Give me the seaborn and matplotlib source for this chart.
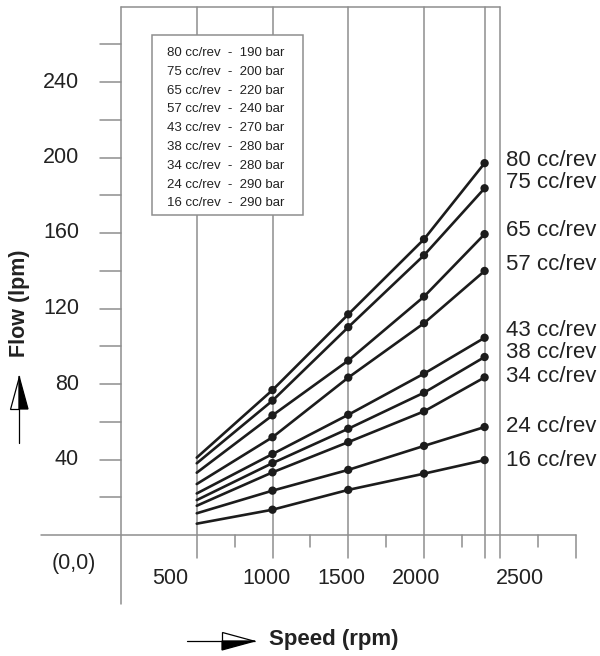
import numpy as np
import pandas as pd
import seaborn as sns
import matplotlib.pyplot as plt
from matplotlib.patches import Polygon, Rectangle

# chart data
displacements = [80, 75, 65, 57, 43, 38, 34, 24, 16]
max_pressure = [190, 200, 220, 240, 270, 280, 280, 290, 290]
speeds = [500, 1000, 1500, 2000, 2400]
flows = {
    80: [41, 76.8, 116.9, 156.7, 197.0],
    75: [38, 71.2, 110.1, 148.2, 183.7],
    65: [33, 63.4, 92.4, 126.3, 159.4],
    57: [27, 51.8, 83.4, 112.2, 139.9],
    43: [22, 42.9, 63.7, 85.5, 104.5],
    38: [18.5, 38.1, 56.3, 75.4, 94.3],
    34: [15.5, 33.2, 49.2, 65.5, 83.5],
    24: [11.5, 23.5, 34.5, 47.2, 57.2],
    16: [6, 13.4, 23.9, 32.5, 39.7],
}
x_ticks_major = [500, 1000, 1500, 2000, 2400, 2500, 3000]
x_ticks_minor = [750, 1250, 1750, 2250, 2750]
y_ticks = list(range(20, 280, 20))
y_tick_labels = [40, 80, 120, 160, 200, 240]
x_tick_labels = [500, 1000, 1500, 2000, 2500]

# layout (pixel mapping of the drawing)
X0, KX = 121.0, 0.1515     # px of 0 rpm, px per rpm
Y0, KY = 535.0, 1.8875     # px (from top) of 0 lpm, px per lpm
W, H = 600, 656


def px(x, y):
    return (x - X0) / KX, (Y0 - y) / KY


rows = []
for d in displacements:
    for s, f in zip(speeds, flows[d]):
        rows.append({'disp': d, 'speed': s, 'flow': f})
df = pd.DataFrame(rows)

sns.set_style('white')
plt.rcParams['font.family'] = ['Liberation Sans', 'DejaVu Sans']

fig = plt.figure(figsize=(W / 100, H / 100), dpi=100)
ax = fig.add_axes([0, 0, 1, 1])

gray = '#8e8e8e'
glw = 1.1
ink = '#1c1c1c'
txt = '#222222'
top = 280

# frame / grid / ticks
ax.plot([px(41, 0)[0], 3000], [0, 0], color=gray, lw=glw, zorder=1)
ax.plot([0, 0], [px(0, 604)[1], top], color=gray, lw=glw, zorder=1)
ax.plot([0, 2500], [top, top], color=gray, lw=glw, zorder=1)
long_bot = px(0, 558)[1]
short_bot = px(0, 547)[1]
for s in x_ticks_major:
    ax.plot([s, s], [long_bot, top if s <= 2500 else 0], color=gray, lw=glw, zorder=1)
for s in x_ticks_minor:
    ax.plot([s, s], [short_bot, 0], color=gray, lw=glw, zorder=1)
for v in y_ticks:
    ax.plot([px(100, 0)[0], 0], [v, v], color=gray, lw=glw, zorder=1)

# data
sns.lineplot(data=df, x='speed', y='flow', units='disp', estimator=None,
             color=ink, lw=1.9, ax=ax, zorder=4)
sns.scatterplot(data=df[df['speed'] >= 1000], x='speed', y='flow',
                color=ink, s=36, edgecolor='none', ax=ax, zorder=5)

# legend box
bx0, by0 = px(152, 215)
bx1, by1 = px(303, 35)
ax.add_patch(Rectangle((bx0, by0), bx1 - bx0, by1 - by0, facecolor='white',
                       edgecolor=gray, lw=glw, zorder=3))
for i, (d, p) in enumerate(zip(displacements, max_pressure)):
    tx, ty = px(167, 53 + i * 18.8)
    ax.text(tx, ty, f'{d} cc/rev  -  {p} bar', fontsize=9.5, color=txt,
            ha='left', va='center', zorder=6)

# right-hand labels
label_py = [160, 183, 230, 265, 330, 353, 376, 427, 460]
for d, ly in zip(displacements, label_py):
    tx, ty = px(506, ly)
    ax.text(tx, ty, f'{d} cc/rev', fontsize=16, color=txt,
            ha='left', va='center')

# tick labels
for v in y_tick_labels:
    ax.text(px(79, 0)[0], v, str(v), fontsize=15.5, color=txt,
            ha='right', va='center')
x_label_px = [170, 266, 341, 416, 520]
for v, lx in zip(x_tick_labels, x_label_px):
    tx, ty = px(lx, 579)
    ax.text(tx, ty, str(v), fontsize=15.5, color=txt, ha='center', va='center')
ax.text(*px(74, 564), '(0,0)', fontsize=15.5, color=txt, ha='center', va='center')

# axis titles with arrows
ax.text(*px(19, 303), 'Flow (lpm)', fontsize=15.5, fontweight='bold', color=txt,
        rotation=90, ha='center', va='center')
ax.text(*px(334, 640), 'Speed (rpm)', fontsize=16, fontweight='bold', color=txt,
        ha='center', va='center')

ax.plot(*zip(px(19, 443), px(19, 409)), color='black', lw=0.9)
ax.add_patch(Polygon([px(10, 409), px(19, 409), px(19, 376)], closed=True,
                     facecolor='white', edgecolor='black', lw=0.9))
ax.add_patch(Polygon([px(19, 409), px(28, 409), px(19, 376)], closed=True,
                     facecolor='black', edgecolor='black', lw=0.9))
ax.plot(*zip(px(187, 641), px(222, 641)), color='black', lw=0.9)
ax.add_patch(Polygon([px(222, 632), px(222, 641), px(255, 641)], closed=True,
                     facecolor='white', edgecolor='black', lw=0.9))
ax.add_patch(Polygon([px(222, 641), px(222, 650), px(255, 641)], closed=True,
                     facecolor='black', edgecolor='black', lw=0.9))

ax.set_xlim(px(0, 0)[0], px(W, 0)[0])
ax.set_ylim(px(0, H)[1], px(0, 0)[1])
ax.axis('off')

fig.savefig('out.png', dpi=100)
